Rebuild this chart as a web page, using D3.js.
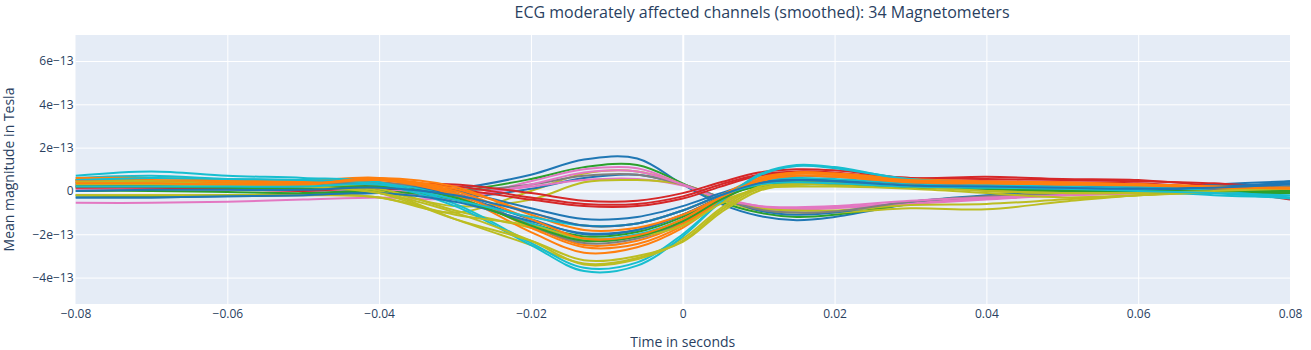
<!DOCTYPE html>
<html>
<head>
<meta charset="utf-8">
<script src="https://cdn.jsdelivr.net/npm/d3@7"></script>
<style>
  body { margin: 0; background: #fff; }
  svg { display: block; font-family: "Open Sans", sans-serif; }
</style>
</head>
<body>
<svg id="chart" width="1311" height="350"></svg>
<script>
// ---- data (values in units of 1e-13 Tesla) ----
const UNIT = 1e-13;
const times = [-0.08, -0.07, -0.06, -0.05, -0.04, -0.03, -0.02, -0.013, -0.006, 0, 0.005, 0.01, 0.015, 0.02, 0.03, 0.04, 0.05, 0.06, 0.07, 0.08];

const seriesNames = ["A1","A2","A3","A4","A5","A6","A7","A8","A9","B1","B2","B3",
  "C1","C2","C3","C4","C5","C6","C7","C8","C9","C10","C11","C12","C13","C14","C15","C16","C17","C18","C19","C21","C22","C23"];

const seriesColors = ["#1f77b4","#2ca02c","#e377c2","#bcbd22","#1f77b4","#e377c2","#bcbd22","#7f7f7f","#e377c2",
  "#d62728","#d62728","#d62728",
  "#1f77b4","#ff7f0e","#1f77b4","#2ca02c","#17becf","#bcbd22","#ff7f0e","#7f7f7f","#ff7f0e","#bcbd22","#17becf","#17becf","#bcbd22","#ff7f0e","#bcbd22","#1f77b4","#ff7f0e","#2ca02c","#bcbd22","#ff7f0e","#17becf","#1f77b4"];

const seriesValues = [
  [-0.3,-0.3,-0.25,-0.2,-0.1, 0.1, 0.75, 1.45, 1.5, 0.3, -0.6, -1.15, -1.35, -1.2, -0.6, -0.3, -0.1, 0.1, 0.3, 0.45],
  [-0.2,-0.25,-0.2,-0.15,-0.05, 0.0, 0.55, 1.1, 1.2, 0.35, -0.5, -1.0, -1.2, -1.1, -0.6, -0.3, -0.15, 0.0, 0.1, 0.2],
  [-0.55,-0.55,-0.5,-0.4,-0.3,-0.35, 0.45, 1.0, 1.05, 0.3, -0.4, -0.75, -0.8, -0.75, -0.55, -0.35, -0.2, -0.1, 0.0, 0.1],
  [-0.2,-0.2,-0.2,-0.15,-0.3,-1.0, 0.0, 0.8, 0.9, 0.3, -0.4, -0.9, -1.0, -1.0, -0.8, -0.85, -0.5, -0.2, -0.05, 0.05],
  [0.2, 0.25, 0.2, 0.1, 0.0, -0.3, 0.1, 0.6, 0.75, 0.3, -0.3, -0.9, -1.1, -1.0, -0.5, -0.2, 0.0, 0.1, 0.2, 0.35],
  [0.3,0.3,0.25,0.2,0.1,-0.2, 0.2, 0.5, 0.55, 0.25, -0.3, -0.7, -0.85, -0.8, -0.6, -0.4, -0.2, -0.1, 0.0, 0.05],
  [0.5,0.4,0.3,0.2,0.0,-0.7,-0.4, 0.4, 0.5, 0.3, -0.3, -0.8, -0.9, -0.9, -0.65, -0.6, -0.4, -0.2, 0.0, 0.1],
  [0.1, 0.1, 0.1, 0.1,0.15, 0.0, 0.3, 0.7, 0.75, 0.3,-0.3,-0.85,-1.0,-0.95,-0.5,-0.25,-0.1,0.0,0.1,0.2],
  [0.1,0.1,0.05,0.0,0.0,-0.3,0.3,0.85,0.9,0.3,-0.35,-0.7,-0.75,-0.7,-0.45,-0.3,-0.2,-0.1,0.0,0.05],
  [0.2,0.2,0.25,0.2,0.3,0.3,-0.1,-0.45,-0.45,-0.1, 0.4, 0.85, 1.0, 0.95, 0.6, 0.65, 0.55, 0.5, 0.2, -0.35],
  [0.15,0.15,0.1,0.0,0.2,0.2,-0.3,-0.6,-0.6,-0.25, 0.3, 0.75, 0.9, 0.85, 0.5, 0.45, 0.4, 0.35, 0.1, -0.4],
  [0.4,0.35,0.3,0.25,0.1,0.05,-0.4,-0.7,-0.7,-0.35, 0.2, 0.7, 0.85, 0.8, 0.6, 0.55, 0.5, 0.45, 0.35, 0.1],
  [0.3,0.3,0.25,0.2,0.3,0.0,-0.8,-1.3,-1.2,-0.7,-0.1,0.4,0.55,0.5,0.3,0.3,0.2,0.1,0.0,-0.1],
  [0.5,0.5,0.45,0.4,0.55,0.1,-1.0,-1.6,-1.5,-0.9,-0.2,0.6,0.85,0.8,0.5,0.4,0.35,0.3,0.1,0.0],
  [0.3,0.35,0.3,0.25,0.35,-0.2,-1.3,-2.0,-1.8,-1.1,-0.3,0.4,0.5,0.45,0.25,0.2,0.2,0.15,0.1,0.45],
  [0.0,0.0,-0.05,-0.1,0.0,-0.4,-1.5,-2.1,-1.9,-1.2,-0.3,0.2,0.3,0.3,0.15,0.1,0.0,-0.1,-0.1,-0.1],
  [0.6,0.7,0.55,0.5,0.4,-0.3,-1.5,-2.2,-2.0,-1.3,-0.3,0.45,0.6,0.55,0.35,0.2,0.1,0.0,-0.2,-0.3],
  [0.5,0.45,0.4,0.3,0.1,-0.9,-1.7,-2.3,-2.1,-1.5,-0.5,0.1,0.3,0.3,0.2,0.0,-0.1,-0.05,0.0,0.1],
  [0.6,0.6,0.5,0.45,0.6,-0.1,-1.6,-2.5,-2.3,-1.5,-0.4,0.4,0.8,0.75,0.5,0.4,0.35,0.3,0.15,0.05],
  [0.4,0.35,0.3,0.3,0.4,-0.1,-1.6,-2.4,-2.2,-1.4,-0.3,0.5,0.7,0.65,0.4,0.3,0.3,0.2,0.1,0.2],
  [0.5,0.45,0.4,0.35,0.5,-0.2,-1.9,-2.85,-2.6,-1.7,-0.5,0.5,0.85,0.8,0.55,0.45,0.4,0.3,0.2,0.1],
  [0.5,0.45,0.35,0.25,0.0,-1.3,-2.5,-3.35,-3.1,-2.2,-0.8,0.2,0.4,0.4,0.25,0.1,0.0,-0.05,0.0,0.1],
  [0.7,0.9,0.7,0.6,0.4,-0.6,-2.4,-3.55,-3.3,-2.0,-0.5,0.7,1.15,1.05,0.55,0.35,0.3,0.2,0.0,-0.3],
  [0.5,0.6,0.55,0.5,0.3,-0.7,-2.5,-3.7,-3.45,-2.1,-0.5,0.75,1.2,1.1,0.5,0.3,0.2,0.1,-0.1,-0.35],
  [0.3,0.3,0.25,0.2,-0.1,-1.3,-2.3,-3.2,-3.0,-2.35,-1.0,0.0,0.3,0.3,0.2,0.05,-0.05,-0.05,0.0,0.05],
  [0.4,0.4,0.35,0.3,0.55,-0.1,-1.7,-2.6,-2.45,-1.6,-0.4,0.5,0.8,0.75,0.45,0.35,0.3,0.25,0.15,0.1],
  [-0.2,-0.2,-0.2,-0.2,-0.3,-1.1,-1.6,-2.2,-2.1,-1.6,-0.6,0.1,0.2,0.2,0.1,-0.1,-0.3,-0.2,-0.05,0.1],
  [-0.3,-0.3,-0.25,-0.2,-0.1,-0.5,-1.4,-1.95,-1.8,-1.1,-0.3,0.35,0.5,0.45,0.2,0.1,0.05,0.0,0.2,0.35],
  [0.45,0.4,0.35,0.3,0.6,0.2,-1.1,-1.8,-1.7,-1.1,-0.3,0.5,0.8,0.75,0.5,0.4,0.35,0.3,0.2,0.15],
  [0.2,0.2,0.15,0.1,0.2,-0.3,-1.6,-2.3,-2.1,-1.4,-0.4,0.3,0.4,0.35,0.2,0.1,0.0,0.0,0.0,0.0],
  [0.4,0.4,0.3,0.2,-0.1,-1.0,-2.3,-3.4,-3.15,-2.3,-0.9,0.1,0.35,0.35,0.2,0.0,-0.1,-0.1,0.0,0.1],
  [0.35,0.35,0.3,0.3,0.5,0.0,-1.3,-2.2,-2.05,-1.3,-0.3,0.45,0.7,0.65,0.4,0.35,0.3,0.3,0.2,0.1],
  [0.2,0.2,0.2,0.2,0.3,-0.4,-1.2,-1.6,-1.5,-0.9,-0.2,0.3,0.4,0.35,0.2,0.15,0.1,0.0,-0.1,-0.2],
  [0.0,0.05,0.05,0.05,0.15,-0.2,-1.0,-1.6,-1.5,-0.9,-0.2,0.35,0.5,0.45,0.25,0.2,0.15,0.1,0.15,0.3]
];

const xTicks = [-0.08, -0.06, -0.04, -0.02, 0, 0.02, 0.04, 0.06, 0.08];
const xTickLabels = ["−0.08", "−0.06", "−0.04", "−0.02", "0", "0.02", "0.04", "0.06", "0.08"];
const yTicks = [-4e-13, -2e-13, 0, 2e-13, 4e-13, 6e-13];
const yTickLabels = ["−4e−13", "−2e−13", "0", "2e−13", "4e−13", "6e−13"];

const titleText = "ECG moderately affected channels (smoothed): 34 Magnetometers";
const xTitle = "Time in seconds";
const yTitle = "Mean magnitude in Tesla";

// ---- layout ----
const svg = d3.select("#chart");
const pLeft = 75.5, pRight = 1290, pTop = 35, pBottom = 304;
const x = d3.scaleLinear().domain([-0.08, 0.08]).range([pLeft, pRight]);
const y = d3.scaleLinear().domain([-5.22e-13, 7.2e-13]).range([pBottom, pTop]);
const textColor = "#2a3f5f";

svg.append("rect").attr("x", pLeft).attr("y", pTop)
  .attr("width", pRight - pLeft).attr("height", pBottom - pTop).attr("fill", "#E5ECF6");

svg.append("clipPath").attr("id", "plotclip").append("rect")
  .attr("x", pLeft).attr("y", pTop).attr("width", pRight - pLeft).attr("height", pBottom - pTop);

// grid + axes
const gx = svg.append("g").attr("transform", `translate(0,${pBottom})`)
  .call(d3.axisBottom(x).tickValues(xTicks).tickSize(-(pBottom - pTop)).tickFormat((d, i) => xTickLabels[i]));
gx.select(".domain").remove();
gx.selectAll("line").attr("stroke", "#fff").attr("stroke-width", d => d === 0 ? 2 : 1);
gx.selectAll(".tick line").filter(d => d === -0.08 || d === 0.08).remove();
gx.selectAll("text").attr("fill", textColor).attr("font-size", 12).attr("dy", "0.9em");

const gy = svg.append("g").attr("transform", `translate(${pLeft},0)`)
  .call(d3.axisLeft(y).tickValues(yTicks).tickSize(-(pRight - pLeft)).tickFormat((d, i) => yTickLabels[i]));
gy.select(".domain").remove();
gy.selectAll("line").attr("stroke", "#fff").attr("stroke-width", d => d === 0 ? 2 : 1);
gy.selectAll("text").attr("fill", textColor).attr("font-size", 12).attr("x", -2);
svg.selectAll(".tick text").attr("font-family", "'Open Sans', sans-serif");
gx.attr("font-family", null); gy.attr("font-family", null);

// lines
const line = d3.line()
  .x((d, i) => x(times[i]))
  .y(d => y(d * UNIT))
  .curve(d3.curveCatmullRom.alpha(0.5));

const g = svg.append("g").attr("clip-path", "url(#plotclip)");
seriesValues.forEach((vals, k) => {
  g.append("path").datum(vals)
    .attr("d", line)
    .attr("fill", "none")
    .attr("stroke", seriesColors[k])
    .attr("stroke-width", 2)
    .attr("stroke-linejoin", "round");
});

// titles
svg.append("text").attr("x", 762).attr("y", 17.5).attr("text-anchor", "middle")
  .attr("fill", textColor).attr("font-size", 16).text(titleText);
svg.append("text").attr("x", (pLeft + pRight) / 2).attr("y", 347).attr("text-anchor", "middle")
  .attr("fill", textColor).attr("font-size", 14).text(xTitle);
svg.append("text").attr("transform", `translate(9,${(pTop + pBottom) / 2}) rotate(-90)`)
  .attr("text-anchor", "middle").attr("dy", "0.35em")
  .attr("fill", textColor).attr("font-size", 14).text(yTitle);
</script>
</body>
</html>
